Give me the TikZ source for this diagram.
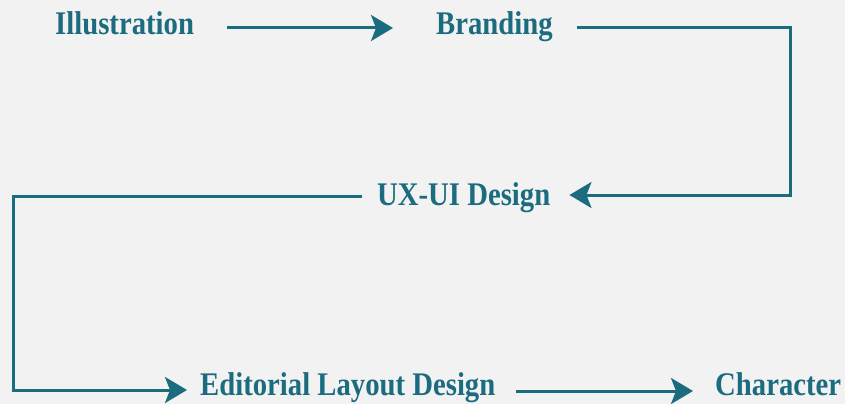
\documentclass[tikz,border=0pt]{standalone}
\usepackage{fontspec}
\setmainfont[FakeStretch=0.87]{Liberation Serif}
\usetikzlibrary{arrows.meta}
\definecolor{teal}{HTML}{1C6C7F}
\definecolor{paper}{HTML}{F2F2F2}
\begin{document}
\begin{tikzpicture}[x=1pt,y=-1pt,
  lbl/.style={anchor=base west,inner sep=0pt,text=teal,font=\fontsize{33}{36}\selectfont\bfseries},
  conn/.style={draw=teal,line width=3pt,-{Stealth[length=22pt,width=26pt,inset=5pt]}}]
\fill[paper] (0,0) rectangle (845,404);
\useasboundingbox (0,0) rectangle (845,404);
\node[lbl] (ill) at (55,35) {Illustration};
\node[lbl] (brand) at (436,35) {Branding};
\node[lbl] (ux) at (377,205) {UX-UI Design};
\node[lbl] (edit) at (200,395) {Editorial Layout Design};
\node[lbl] (char) at (715,395) {Character};
\draw[conn] ([xshift=33pt,yshift=7pt]ill.base east) -- ([xshift=-43pt,yshift=7pt]brand.base west);
\draw[conn] ([xshift=24pt,yshift=7pt]brand.base east) -- ++(214,0) |- ([xshift=19pt,yshift=10pt]ux.base east);
\draw[conn] ([xshift=-15pt,yshift=9pt]ux.base west) -- ++(-349,0) |- ([xshift=-13pt,yshift=5pt]edit.base west);
\draw[conn] ([xshift=20pt,yshift=4pt]edit.base east) -- ([xshift=-22pt,yshift=4pt]char.base west);
\end{tikzpicture}
\end{document}
